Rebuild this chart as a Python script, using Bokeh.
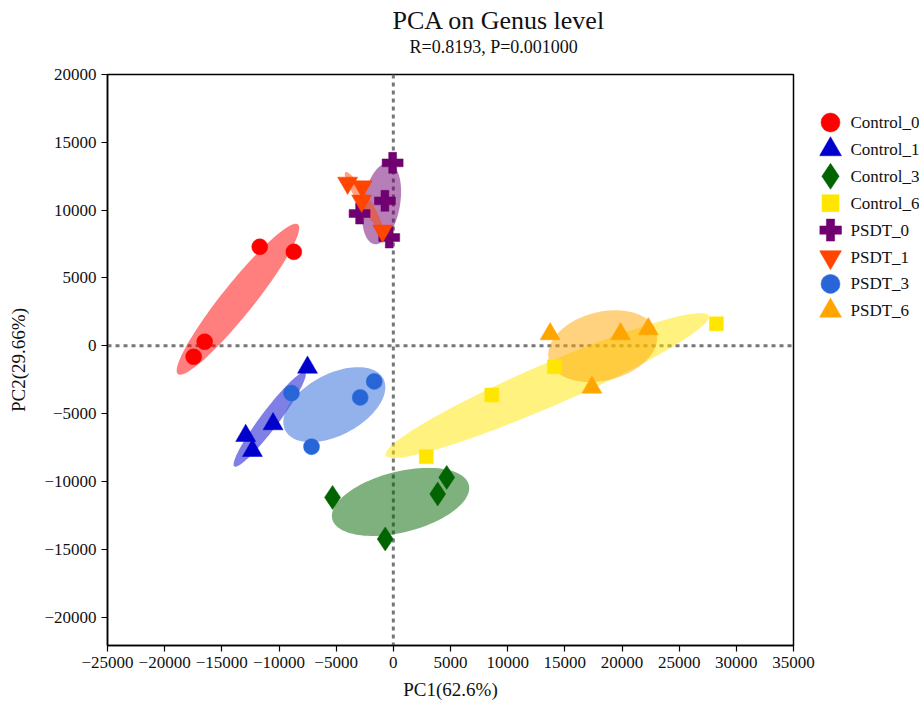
import numpy as np
from bokeh.plotting import figure
from bokeh.layouts import row
from bokeh.models import Range1d, FixedTicker, Span, Title, BasicTickFormatter
from bokeh.core.properties import value
from bokeh.embed import file_html
from bokeh.resources import INLINE

FONT = "Liberation Serif"

# ---- data ----
groups = ["Control_0", "Control_1", "Control_3", "Control_6",
          "PSDT_0", "PSDT_1", "PSDT_3", "PSDT_6"]

control_0_x = [-11685, -8706, -16502, -17465]
control_0_y = [7296, 6927, 295, -811]
control_1_x = [-7506, -10519, -12911, -12324]
control_1_y = [-1599, -5770, -6632, -7738]
control_3_x = [-5317, 4668, 3880, -709]
control_3_y = [-11179, -9705, -10929, -14245]
control_6_x = [28256, 14093, 8610, 2882]
control_6_y = [1621, -1548, -3633, -8180]
psdt_0_x = [-61, -736, -2952, -359]
psdt_0_y = [13486, 10685, 9749, 7981]
psdt_1_x = [-3997, -2720, -2773, -936]
psdt_1_y = [12007, 11735, 10681, 8471]
psdt_3_x = [-8908, -1673, -2899, -7156]
psdt_3_y = [-3486, -2631, -3810, -7443]
psdt_6_x = [13716, 19871, 22300, 17369]
psdt_6_y = [862, 862, 1231, -3073]

xs_all = [control_0_x, control_1_x, control_3_x, control_6_x,
          psdt_0_x, psdt_1_x, psdt_3_x, psdt_6_x]
ys_all = [control_0_y, control_1_y, control_3_y, control_6_y,
          psdt_0_y, psdt_1_y, psdt_3_y, psdt_6_y]

colors = ["#FF0000", "#0000CD", "#006400", "#FFE600",
          "#700070", "#FF4500", "#2866D8", "#FFA500"]
markers = ["circle", "triangle", "diamond", "square",
           "plus", "inverted_triangle", "circle", "triangle"]
sizes = [16, 20, 24, 14, 21, 20, 16, 20]
legend_sizes = [19, 22, 26, 17, 22, 22, 19, 22]

x_ticks = list(range(-25000, 35001, 5000))
y_ticks = list(range(-20000, 20001, 5000))

title_text = "PCA on Genus level"
subtitle_text = "R=0.8193, P=0.001000"
x_label = "PC1(62.6%)"
y_label = "PC2(29.66%)"

ELLIPSE_SCALE = 1.3  # confidence ellipse scale on sample covariance


def ellipse_path(xs, ys, k=ELLIPSE_SCALE, n=120):
    pts = np.column_stack([xs, ys]).astype(float)
    mu = pts.mean(axis=0)
    cov = np.cov(pts.T)
    vals, vecs = np.linalg.eigh(cov)
    t = np.linspace(0, 2 * np.pi, n)
    circ = np.column_stack([np.cos(t), np.sin(t)]) * (k * np.sqrt(np.clip(vals, 0, None)))
    path = circ @ vecs.T + mu
    return path[:, 0], path[:, 1]


LEG_W = 100
FRAME_TOP, FRAME_BOTTOM = 74, 645
p = figure(width=919 - LEG_W, height=703, output_backend="svg", toolbar_location=None,
           x_range=Range1d(-25000, 35000), y_range=Range1d(-22100, 20000),
           title=None,
           min_border_left=107, min_border_right=919 - LEG_W - 793,
           min_border_top=FRAME_TOP, min_border_bottom=703 - FRAME_BOTTOM,
           background_fill_color="white", border_fill_color="white")

p.grid.visible = False
p.outline_line_color = "black"
p.outline_line_width = 1.5
p.outline_line_alpha = 1.0

for ax in (p.xaxis[0], p.yaxis[0]):
    ax.major_label_text_font = FONT
    ax.major_label_text_font_size = "17px"
    ax.major_label_text_color = "#111111"
    ax.axis_label_text_font = FONT
    ax.axis_label_text_font_size = "19px"
    ax.axis_label_text_font_style = "normal"
    ax.axis_label_text_color = "#111111"
    ax.major_tick_out = 6
    ax.major_tick_in = 0
    ax.minor_tick_out = 0
    ax.minor_tick_in = 0
    ax.axis_line_color = "black"
    ax.axis_line_width = 1.5
    ax.major_tick_line_width = 1.2
    ax.formatter = BasicTickFormatter(use_scientific=False)
    ax.major_label_standoff = 5

p.xaxis[0].ticker = FixedTicker(ticks=x_ticks)
p.yaxis[0].ticker = FixedTicker(ticks=y_ticks)
p.xaxis[0].axis_label = x_label
p.yaxis[0].axis_label = y_label
p.xaxis[0].axis_label_standoff = 8
p.yaxis[0].axis_label_standoff = 12

# reference dashed lines at 0
p.add_layout(Span(location=0, dimension="height", line_color="#777777",
                  line_width=3, line_dash="4 4", level="underlay"))
p.add_layout(Span(location=0, dimension="width", line_color="#777777",
                  line_width=3, line_dash="4 4", level="underlay"))

# ellipses
for xs, ys, c in zip(xs_all, ys_all, colors):
    ex, ey = ellipse_path(xs, ys)
    p.patch(ex, ey, fill_color=c, fill_alpha=0.5, line_color=None)

# points
for xs, ys, c, m, s in zip(xs_all, ys_all, colors, markers, sizes):
    p.scatter(xs, ys, marker=m, size=s, fill_color=c, line_color=c, line_width=0.5)

# spacer panel between frame and subtitle, then subtitle, then title
p.add_layout(Title(text=" ", standoff=15, text_font=FONT,
                   text_font_size="1px"), "above")
p.add_layout(Title(text=subtitle_text, align="left", offset=302, standoff=0,
                   text_font=FONT, text_font_size="18px",
                   text_font_style="normal", text_color="#111111"), "above")
p.add_layout(Title(text=title_text, align="left", offset=285, standoff=0,
                   text_font=FONT, text_font_size="26px",
                   text_font_style="normal", text_color="#111111"), "above")

# ---- legend panel (its frame is aligned with the main frame; y in page pixels) ----
leg = figure(width=LEG_W, height=703, output_backend="svg", toolbar_location=None,
             x_range=Range1d(0, LEG_W), y_range=Range1d(FRAME_BOTTOM, FRAME_TOP),
             min_border=0, min_border_top=FRAME_TOP,
             min_border_bottom=703 - FRAME_BOTTOM, title=None)
leg.axis.visible = False
leg.grid.visible = False
leg.outline_line_color = None

n = len(groups)
leg_x = [11] * n
leg_y = [122 + 26.9 * i for i in range(n)]
for i in range(n):
    leg.scatter([leg_x[i]], [leg_y[i]], marker=markers[i], size=legend_sizes[i],
                fill_color=colors[i], line_color=colors[i], line_width=0.5)
leg.text([v + 20 for v in leg_x], leg_y, text=groups, text_font=value(FONT),
         text_font_size="17px", text_baseline="middle", text_align="left",
         text_color="#111111")

layout = row(p, leg, spacing=0)
open("out.html", "w").write(file_html(layout, INLINE))
